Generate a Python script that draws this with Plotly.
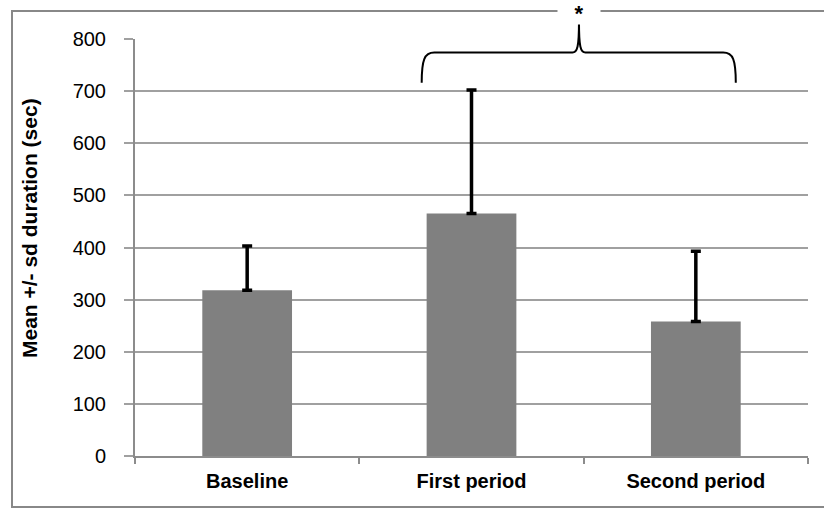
import plotly.graph_objects as go

categories = ["Baseline", "First period", "Second period"]
means = [318, 465, 258]
sds = [85, 237, 135]
y_ticks = [0, 100, 200, 300, 400, 500, 600, 700, 800]

# curly brace over First/Second period (data units: x index, y value)
brace_x = [0.778, 0.778, 0.79, 0.834, 1.45, 1.472, 1.479, 1.479, 1.479, 1.486, 1.508, 2.122, 2.166, 2.178, 2.178]
brace_y = [716, 760, 774, 774, 774, 774, 785, 833, 785, 774, 774, 774, 774, 760, 716]
star_x = 1.48

X_RANGE = [-0.5, 2.5]
Y_RANGE = [0, 800]

def px(x):
    return (x - X_RANGE[0]) / (X_RANGE[1] - X_RANGE[0])

def py(y):
    return (y - Y_RANGE[0]) / (Y_RANGE[1] - Y_RANGE[0])

pts = [(px(x), py(y)) for x, y in zip(brace_x, brace_y)]
path = "M {:.4f},{:.4f}".format(*pts[0])
path += " C " + " ".join("{:.4f},{:.4f}".format(*p) for p in pts[1:4])
path += " L {:.4f},{:.4f}".format(*pts[4])
path += " C " + " ".join("{:.4f},{:.4f}".format(*p) for p in pts[5:8])
path += " C " + " ".join("{:.4f},{:.4f}".format(*p) for p in pts[8:11])
path += " L {:.4f},{:.4f}".format(*pts[11])
path += " C " + " ".join("{:.4f},{:.4f}".format(*p) for p in pts[12:15])

GRID = "#a0a0a0"
AXIS = "#8c8c8c"

fig = go.Figure()
fig.add_trace(go.Bar(
    x=list(range(len(categories))), y=means, width=0.4,
    marker=dict(color="#808080", line=dict(width=0)),
    error_y=dict(type="data", array=sds, arrayminus=[0] * len(sds), symmetric=False,
                 color="black", thickness=3.5, width=5),
    hoverinfo="skip",
))

fig.update_layout(
    width=824, height=508,
    margin=dict(l=135, r=16, t=39, b=52),
    paper_bgcolor="white", plot_bgcolor="white",
    showlegend=False,
    font=dict(family="Liberation Sans, Arial, sans-serif", color="black"),
    xaxis=dict(
        range=X_RANGE, tickvals=list(range(len(categories))), ticktext=categories,
        showgrid=False, zeroline=False, showline=True, linecolor=AXIS, linewidth=2,
        ticks="", tickfont=dict(size=20, family="Liberation Sans, Arial", weight="bold"),
        ticklabelstandoff=6,
        minor=dict(ticks="outside", tick0=-0.5, dtick=1, ticklen=6, tickcolor=AXIS, tickwidth=2, showgrid=False),
    ),
    yaxis=dict(
        range=Y_RANGE, tickvals=y_ticks, showgrid=True, gridcolor=GRID, gridwidth=2,
        zeroline=False, showline=True, linecolor=AXIS, linewidth=2,
        ticks="outside", ticklen=9, tickcolor=GRID, tickwidth=2,
        tickfont=dict(size=20, family="Liberation Sans, Arial"),
        ticklabelstandoff=14,
    ),
    shapes=[
        dict(type="rect", xref="paper", yref="paper",
             x0=(12 - 135) / 673, x1=(840 - 135) / 673, y0=(456 - 507) / 417, y1=(456 - 11) / 417,
             line=dict(color="#888888", width=2), fillcolor="rgba(0,0,0,0)", layer="below"),
        dict(type="path", xref="paper", yref="paper", path=path,
             line=dict(color="black", width=2)),
    ],
    annotations=[
        dict(x=px(star_x), y=(456 - 13) / 417, xref="paper", yref="paper", text="<b>*</b>", showarrow=False,
             font=dict(size=22, color="black", family="Liberation Sans, Arial"),
             bgcolor="white", borderpad=0, xanchor="center", yanchor="middle", width=42, height=22),
        dict(x=(30 - 135) / 673, y=(456 - 228) / 417, xref="paper", yref="paper",
             text="Mean +/- sd duration (sec)", textangle=-90, showarrow=False,
             xanchor="center", yanchor="middle",
             font=dict(size=21, color="black", family="Liberation Sans, Arial", weight="bold")),
    ],
)

fig.write_html("out.html")
